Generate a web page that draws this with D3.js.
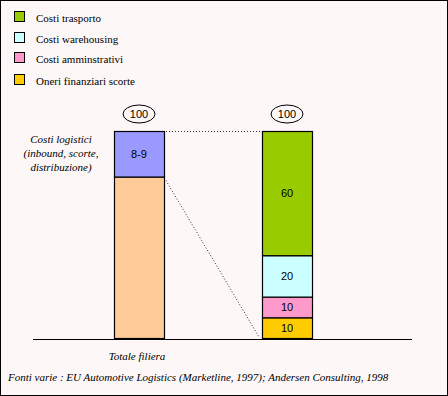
<!DOCTYPE html>
<html>
<head>
<meta charset="utf-8">
<script src="https://cdn.jsdelivr.net/npm/d3@7"></script>
<style>
  html, body { margin: 0; padding: 0; background: #fff; }
  svg { display: block; }
  .serif { font-family: "Liberation Serif", "DejaVu Serif", serif; font-size: 11px; }
  .serif.it { font-style: italic; }
  .sans { font-family: "Liberation Sans", Arial, sans-serif; font-size: 11px; }
</style>
</head>
<body>
<svg id="chart" width="448" height="396"></svg>
<script>
// legend entries (right bar, top to bottom)
const legendLabels = ["Costi trasporto", "Costi warehousing", "Costi amminstrativi", "Oneri finanziari scorte"]
const legendColors = ["#99cc00", "#ccffff", "#ff99cc", "#ffcc00"]

// bars
const barKeys = ["filiera", "logistica"]
const barTotals = ["100", "100"]

// left bar: share drawn in the picture (bottom to top)
const leftValues = [78, 22]
const leftLabels = ["", "8-9"]
const leftColors = ["#ffcc99", "#9999ff"]

// right bar: breakdown of logistics costs (bottom to top)
const rightValues = [10, 10, 20, 60]
const rightLabels = ["10", "10", "20", "60"]
const rightColors = ["#ffcc00", "#ff99cc", "#ccffff", "#99cc00"]

const sourceNote = "Fonti varie : EU Automotive Logistics (Marketline, 1997); Andersen Consulting, 1998"

const svg = d3.select("#chart")

svg.append("rect")
    .attr("x", 0.5).attr("y", 0.5)
    .attr("width", 447).attr("height", 395)
    .attr("fill", "#fdf7f7")
    .attr("stroke", "#000")

const x = d3.scalePoint().domain(barKeys).range([139, 287])
const barW = 50
const y = d3.scaleLinear().domain([0, 100]).range([338, 131])

function stack(values) {
    let acc = 0
    return values.map(v => { const s = { y0: acc, y1: acc + v }; acc += v; return s })
}

function drawBar(key, values, labels, colors) {
    const g = svg.append("g").attr("class", "bar-" + key)
    const segs = stack(values).map((s, i) => ({ ...s, label: labels[i], color: colors[i] }))
    g.selectAll("rect")
        .data(segs)
        .enter()
        .append("rect")
            .attr("x", x(key) - barW / 2 + 0.5)
            .attr("y", d => y(d.y1) + 0.5)
            .attr("width", barW)
            .attr("height", d => y(d.y0) - y(d.y1))
            .attr("fill", d => d.color)
            .attr("stroke", "#000")
            .attr("stroke-width", 1.2)
    g.selectAll("text")
        .data(segs.filter(d => d.label))
        .enter()
        .append("text")
            .attr("class", "sans")
            .attr("x", x(key))
            .attr("y", d => (y(d.y0) + y(d.y1)) / 2 + 4)
            .attr("text-anchor", "middle")
            .text(d => d.label)
}

// connector lines (dotted)
const lx1 = x("filiera") + barW / 2, rx0 = x("logistica") - barW / 2
svg.append("line")
    .attr("x1", lx1 + 2).attr("y1", y(100) + 0.5)
    .attr("x2", rx0).attr("y2", y(100) + 0.5)
    .attr("stroke", "#333").attr("stroke-dasharray", "1,2")
svg.append("line")
    .attr("x1", lx1 + 2).attr("y1", y(leftValues[0]) + 4)
    .attr("x2", rx0 - 3).attr("y2", y(0) - 1)
    .attr("stroke", "#333").attr("stroke-dasharray", "1,2")

drawBar("filiera", leftValues, leftLabels, leftColors)
drawBar("logistica", rightValues, rightLabels, rightColors)

// baseline
svg.append("line")
    .attr("x1", 33).attr("x2", 412)
    .attr("y1", 339.5).attr("y2", 339.5)
    .attr("stroke", "#000")

// "100" ellipses
barKeys.forEach((k, i) => {
    svg.append("ellipse")
        .attr("cx", x(k)).attr("cy", 114)
        .attr("rx", 16).attr("ry", 9)
        .attr("fill", "none").attr("stroke", "#000")
    svg.append("text")
        .attr("class", "sans")
        .attr("x", x(k)).attr("y", 118)
        .attr("text-anchor", "middle")
        .text(barTotals[i])
})

// legend
const legend = svg.append("g").attr("class", "legend")
const legendY = [17, 38, 58, 80]
legendLabels.forEach((lab, i) => {
    legend.append("rect")
        .attr("x", 14.5).attr("y", legendY[i] - 5.5)
        .attr("width", 10).attr("height", 10)
        .attr("fill", legendColors[i])
        .attr("stroke", "#000")
    legend.append("text")
        .attr("class", "serif")
        .attr("x", 36).attr("y", legendY[i] + 5)
        .text(lab)
})

// left description
const desc = ["Costi logistici", "(inbound, scorte,", "distribuzione)"]
svg.append("g").selectAll("text")
    .data(desc)
    .enter()
    .append("text")
        .attr("class", "serif it")
        .attr("x", 61)
        .attr("y", (d, i) => 143 + i * 14)
        .attr("text-anchor", "middle")
        .text(d => d)

svg.append("text")
    .attr("class", "serif it")
    .attr("x", x("filiera") - 2).attr("y", 360)
    .attr("text-anchor", "middle")
    .text("Totale filiera")

svg.append("text")
    .attr("class", "serif it")
    .attr("x", 8).attr("y", 381)
    .text(sourceNote)
</script>
</body>
</html>
